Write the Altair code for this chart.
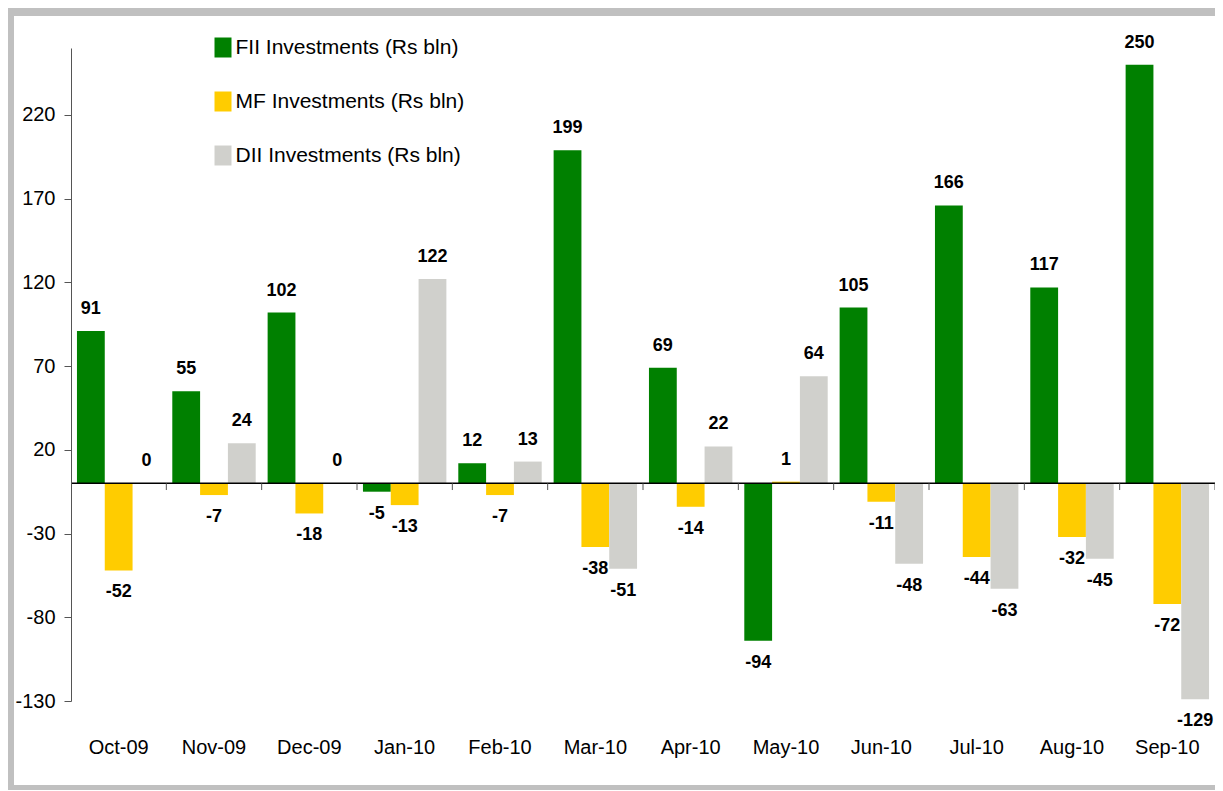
import altair as alt
import pandas as pd

months = ["Oct-09", "Nov-09", "Dec-09", "Jan-10", "Feb-10", "Mar-10",
          "Apr-10", "May-10", "Jun-10", "Jul-10", "Aug-10", "Sep-10"]
fii = [91, 55, 102, -5, 12, 199, 69, -94, 105, 166, 117, 250]
mf = [-52, -7, -18, -13, -7, -38, -14, 1, -11, -44, -32, -72]
dii = [0, 24, 0, 122, 13, -51, 22, 64, -48, -63, -45, -129]
series_names = ["FII Investments (Rs bln)", "MF Investments (Rs bln)", "DII Investments (Rs bln)"]
series_colors = ["#008000", "#FFCC00", "#D0D0CC"]
y_ticks = [-130, -80, -30, 20, 70, 120, 170, 220]

rows = []
for name, vals in zip(series_names, [fii, mf, dii]):
    for m, v in zip(months, vals):
        rows.append({"month": m, "series": name, "value": v, "label": str(v)})
df = pd.DataFrame(rows)
one = pd.DataFrame({"a": [0]})
mdf = pd.DataFrame({"month": months})

W, H = 1144, 653
PB = 89
FONT = "Liberation Sans"

x_scale = alt.Scale(paddingInner=0.125, paddingOuter=0.0625)
x_axis = alt.Axis(title=None, labelAngle=0, domain=False, ticks=False,
                  labelPadding=36, labelFontSize=20, labelColor="black",
                  labelFont=FONT, zindex=2)
x = alt.X("month:N", sort=months, scale=x_scale, axis=x_axis)
xo = alt.XOffset("series:N", sort=series_names,
                 scale=alt.Scale(paddingInner=0, paddingOuter=0))
y = alt.Y("value:Q", scale=alt.Scale(domain=[-130, 260], nice=False, zero=False),
          axis=alt.Axis(title=None, values=y_ticks, grid=False, domainColor="#555555",
                        tickColor="#555555", tickSize=7, labelPadding=9,
                        labelExpr="toString(datum.value)",
                        labelFontSize=20, labelColor="black", labelFont=FONT, zindex=2))

frame = alt.Chart(one).mark_rect(color="white", strokeWidth=0).encode(
    x=alt.value(-57), x2=alt.value(W + 30), y=alt.value(-32), y2=alt.value(H + PB - 5)
)

bars = alt.Chart(df).mark_bar().encode(
    x=x, xOffset=xo, y=y,
    color=alt.Color("series:N", sort=series_names,
                    scale=alt.Scale(domain=series_names, range=series_colors),
                    legend=alt.Legend(orient="none", legendX=141.5, legendY=-11,
                                      title=None, labelFont=FONT, labelFontSize=21,
                                      labelColor="black", labelOffset=2, labelLimit=400,
                                      symbolType="M-0.85,-1H0.85V1H-0.85Z",
                                      symbolSize=400, symbolStrokeWidth=0,
                                      symbolOpacity=1, rowPadding=32, padding=0,
                                      zindex=2)),
)

zero = alt.Chart(one).mark_rule(color="black", strokeWidth=1.5).encode(y=alt.datum(0))

ticks = alt.Chart(mdf).mark_rule(color="#555555", strokeWidth=1, xOffset=5.96).encode(
    x=alt.X("month:N", sort=months, bandPosition=1, scale=x_scale, axis=x_axis),
    y=alt.datum(0), y2=alt.datum(-4),
)

pos_labels = alt.Chart(df).transform_filter("datum.value >= 0").mark_text(
    fontWeight="bold", fontSize=18, font=FONT, color="black", baseline="middle", dy=-22
).encode(x=x, xOffset=xo, y=y, text="label:N")

neg_labels = alt.Chart(df).transform_filter("datum.value < 0").mark_text(
    fontWeight="bold", fontSize=18, font=FONT, color="black", baseline="middle", dy=22
).encode(x=x, xOffset=xo, y=y, text="label:N")

chart = alt.layer(frame, bars, zero, ticks, pos_labels, neg_labels).properties(
    width=W, height=H,
    autosize=alt.AutoSizeParams(type="none"),
    padding={"left": 63, "top": 40, "right": 0, "bottom": PB},
    background="#C0C0C0",
).configure_view(strokeWidth=0)

chart.save("out.html", embed_options={"renderer": "svg", "actions": False})
